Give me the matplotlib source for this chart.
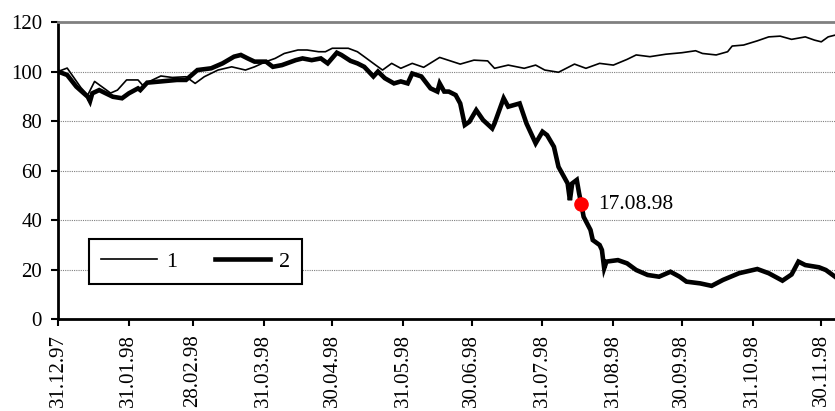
import matplotlib
matplotlib.use('Agg')
import matplotlib.pyplot as plt
import matplotlib.dates as mdates
import pandas as pd

plt.rcParams['font.family'] = ['Liberation Serif', 'DejaVu Serif']

# days counted from 31.12.97
start = pd.Timestamp('1997-12-31')

day1 = [0, 4, 10, 13, 16, 23, 26, 30, 35, 37, 40, 45, 50, 56, 60, 64, 70, 76, 82, 86,
        91, 95, 99, 105, 109, 114, 117, 120, 127, 131, 134, 139, 142, 146, 150, 155, 160,
        167, 176, 182, 188, 191, 197, 204, 209, 213, 219, 226, 231, 237, 243, 249, 253,
        259, 266, 273, 279, 282, 288, 293, 295, 300, 306, 311, 316, 321, 327, 331, 334,
        337, 340]
val1 = [100, 101.4, 93.5, 90.5, 96, 91.3, 92.5, 96.6, 96.6, 94.5, 96, 98.2, 97.6, 97.9,
        95.2, 97.9, 100.6, 101.9, 100.6, 101.9, 104, 105.3, 107.3, 108.7, 108.7, 108, 108,
        109.4, 109.4, 108, 106, 102.6, 100.6, 103.3, 101.3, 103.3, 101.7, 105.7, 103,
        104.6, 104.3, 101.3, 102.6, 101.3, 102.6, 100.6, 99.7, 103, 101.3, 103.3, 102.6,
        104.9, 106.7, 106, 107, 107.6, 108.4, 107.3, 106.7, 108, 110.3, 110.7, 112.4, 114,
        114.3, 113, 114, 112.7, 112, 114, 114.7]

day2 = [0, 4, 8, 13, 14, 15, 18, 24, 28, 31, 35, 36, 39, 45, 52, 56, 61, 67, 72, 77, 80,
        83, 86, 91, 94, 98, 104, 107, 111, 115, 118, 122, 124, 128, 131, 134, 138, 140,
        143, 147, 150, 153, 155, 159, 163, 166, 167, 169, 171, 174, 176, 178, 180, 183,
        186, 190, 191, 195, 197, 202, 205, 209, 212, 214, 217, 219, 223, 224, 225, 227,
        228, 229, 230, 233, 234, 237, 238, 239, 240, 245, 249, 253, 258, 263, 268, 272,
        275, 281, 286, 291, 298, 306, 311, 317, 321, 324, 327, 333, 336, 340]
val2 = [100, 98.6, 93.9, 89.8, 88, 91.2, 92.5, 89.8, 89.2, 91.2, 93.2, 92.5, 95.5, 96,
        96.6, 96.6, 100.6, 101.3, 103.3, 106, 106.7, 105.3, 104, 104, 101.9, 102.6, 104.6,
        105.3, 104.6, 105.3, 103.3, 107.6, 106.7, 104.3, 103.3, 101.9, 98, 100, 97.3, 95.2,
        96, 95.2, 99.2, 98, 93.2, 91.9, 95.2, 91.9, 91.9, 90.5, 87.1, 78.4, 79.7, 84.4,
        80.4, 77, 79, 89.2, 85.8, 87.1, 79, 71, 75.7, 74.3, 69.6, 61.5, 54.8, 48, 54.8,
        56.2, 50.9, 46.3, 41.3, 36, 31.9, 29.9, 27.9, 20.5, 23.2, 23.8, 22.5, 19.8, 17.8,
        17.1, 19.1, 17.1, 15.1, 14.4, 13.4, 15.8, 18.5, 20.2, 18.5, 15.5, 18, 23.2, 21.8,
        20.9, 19.8, 17.1]

event_day = 229  # 17.08.98
tick_dates = ['1997-12-31', '1998-01-31', '1998-02-28', '1998-03-31', '1998-04-30',
              '1998-05-31', '1998-06-30', '1998-07-31', '1998-08-31', '1998-09-30',
              '1998-10-31', '1998-11-30']

d1 = [start + pd.Timedelta(days=d) for d in day1]
d2 = [start + pd.Timedelta(days=d) for d in day2]
ticks = pd.to_datetime(tick_dates)

fig = plt.figure(figsize=(8.35, 4.11), dpi=100)
ax = fig.add_axes([0.0695, 0.2238, 0.9305, 0.7226])

ax.plot(d1, val1, color='black', lw=1.2, label='1')
ax.plot(d2, val2, color='black', lw=3.3, label='2', solid_joinstyle='miter')

i = day2.index(event_day)
ax.plot(d2[i], val2[i], 'o', color='red', ms=9.5, zorder=5)
ax.annotate(d2[i].strftime('%d.%m.%y'), (d2[i], val2[i]), xytext=(12, 0),
            textcoords='offset points', va='center', ha='left', fontsize=15.5)

ax.set_xlim(start, start + pd.Timedelta(days=340))
ax.set_ylim(0, 120)
ax.set_yticks(range(0, 121, 20))
ax.set_xticks(ticks)
ax.xaxis.set_major_formatter(mdates.DateFormatter('%d.%m.%y'))
plt.setp(ax.get_xticklabels(), rotation=90, ha='center', va='top')

for y in range(20, 101, 20):
    ax.axhline(y, color='#808080', lw=0.8, ls=(0, (1, 1)), zorder=0)

ax.spines['right'].set_visible(False)
ax.spines['top'].set_color('#808080')
ax.spines['top'].set_linewidth(2)
ax.spines['left'].set_linewidth(2)
ax.spines['bottom'].set_linewidth(2)
ax.tick_params(axis='both', direction='out', length=5, width=1.5, labelsize=15)
ax.tick_params(axis='x', pad=6)
ax.tick_params(axis='y', pad=6.5)

leg = ax.legend(loc='upper left', bbox_to_anchor=(0.04, 0.269), borderaxespad=0,
                ncol=2, fontsize=16, frameon=True, fancybox=False, framealpha=1,
                edgecolor='black', handlelength=2.5, handletextpad=0.4,
                columnspacing=1.7, borderpad=0.55)
leg.get_frame().set_linewidth(1.5)

fig.savefig('out.png', dpi=100)
